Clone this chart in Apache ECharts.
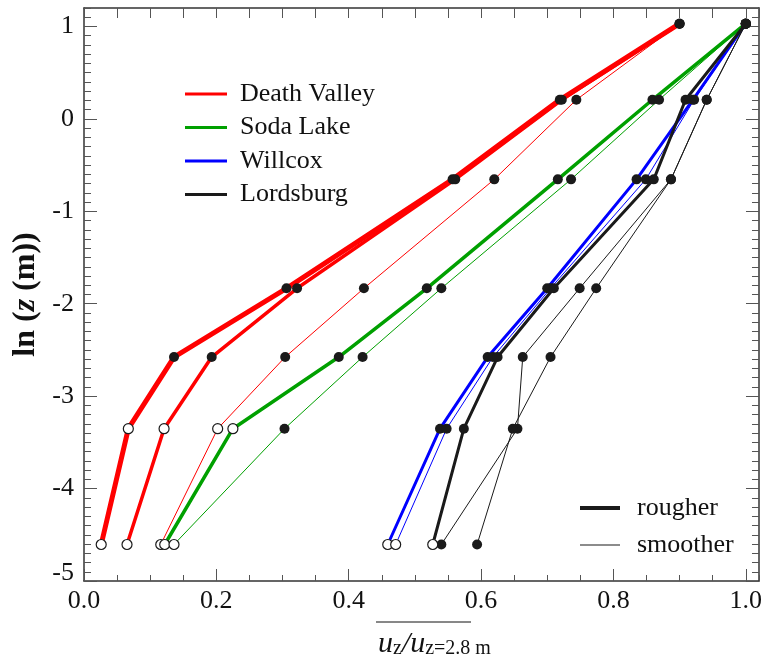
<!DOCTYPE html>
<html lang="en">
<head>
<meta charset="UTF-8">
<title>Wind profiles</title>
<script src="https://cdn.jsdelivr.net/npm/echarts@6/dist/echarts.min.js"></script>
<style>
  html, body { margin: 0; padding: 0; background: #fff; }
  #chart { width: 765px; height: 658px; }
</style>
</head>
<body>
<div id="chart"></div>
<script>
// ln(z) of the measurement heights (z in m)
var lnZ = [1.03, 0.207, -0.654, -1.833, -2.577, -3.352, -4.605];

// u_z / u_(z=2.8 m) at each height, one array per profile
var dvRough   = [0.900, 0.719, 0.557, 0.306, 0.136, 0.067, 0.026];
var dvMid     = [0.900, 0.722, 0.561, 0.322, 0.193, 0.121, 0.065];
var dvSmooth  = [0.900, 0.744, 0.620, 0.423, 0.304, 0.202, 0.116];
var slRough   = [1.000, 0.859, 0.716, 0.518, 0.385, 0.225, 0.122];
var slSmooth  = [1.000, 0.869, 0.736, 0.540, 0.421, 0.303, 0.136];
var wcRough   = [1.000, 0.920, 0.835, 0.700, 0.610, 0.538, 0.459];
var wcSmooth  = [1.000, 0.922, 0.849, 0.705, 0.618, 0.548, 0.471];
var lbRough   = [1.000, 0.909, 0.861, 0.710, 0.625, 0.574, 0.527];
var lbSmooth1 = [1.000, 0.941, 0.887, 0.749, 0.663, 0.655, 0.540];
var lbSmooth2 = [1.000, 0.941, 0.887, 0.774, 0.705, 0.648, 0.594];

// index from which a profile's points are open circles (7 = none)
var dvOpenFrom = 5, slRoughOpenFrom = 5, slSmoothOpenFrom = 6;
var wcOpenFrom = 6, lbRoughOpenFrom = 6, lbSmoothOpenFrom = 7;

var siteNames = ['Death Valley', 'Soda Lake', 'Willcox', 'Lordsburg'];
var roughNames = ['rougher', 'smoother'];

var RED = '#ff0000', GREEN = '#00a000', BLUE = '#0000ff', BLACK = '#1a1a1a';
var FONT = "'Liberation Serif', 'Times New Roman', serif";

var profiles = [
  { x: dvRough,   color: RED,   width: 5,   open: dvOpenFrom },
  { x: dvMid,     color: RED,   width: 3.5, open: dvOpenFrom },
  { x: dvSmooth,  color: RED,   width: 1,   open: dvOpenFrom },
  { x: slRough,   color: GREEN, width: 3.5, open: slRoughOpenFrom },
  { x: slSmooth,  color: GREEN, width: 1,   open: slSmoothOpenFrom },
  { x: wcRough,   color: BLUE,  width: 3,   open: wcOpenFrom },
  { x: wcSmooth,  color: BLUE,  width: 1,   open: wcOpenFrom },
  { x: lbRough,   color: BLACK, width: 3,   open: lbRoughOpenFrom },
  { x: lbSmooth1, color: BLACK, width: 1,   open: lbSmoothOpenFrom },
  { x: lbSmooth2, color: BLACK, width: 1,   open: lbSmoothOpenFrom }
];

var series = [];
var filledPts = [];
var openPts = [];

profiles.forEach(function (p, k) {
  var pts = [];
  for (var i = 0; i < lnZ.length; i++) {
    pts.push([p.x[i], lnZ[i]]);
    if (i >= p.open) openPts.push([p.x[i], lnZ[i]]);
    else filledPts.push([p.x[i], lnZ[i]]);
  }
  series.push({
    name: 'profile' + k,
    type: 'line',
    data: pts,
    symbol: 'none',
    lineStyle: { color: p.color, width: p.width },
    z: 2,
    animation: false
  });
});

series.push({
  type: 'scatter', data: filledPts, symbolSize: 10,
  itemStyle: { color: BLACK, opacity: 1 }, z: 5, animation: false
});
series.push({
  type: 'scatter', data: openPts, symbolSize: 10,
  itemStyle: { color: '#fff', borderColor: BLACK, borderWidth: 1.2, opacity: 1 }, z: 5, animation: false
});

// empty series, only for the legends
var siteColors = [RED, GREEN, BLUE, BLACK];
siteNames.forEach(function (n, i) {
  series.push({ name: n, type: 'line', data: [], color: siteColors[i] });
});
roughNames.forEach(function (n) {
  series.push({ name: n, type: 'line', data: [], color: BLACK });
});

var legendText = { fontFamily: FONT, fontSize: 26, lineHeight: 26, color: '#111', padding: [0, 0, 0, 8] };

function numAxis(extra) {
  var base = {
    type: 'value',
    axisLine: { show: false, onZero: false },
    axisTick: { inside: true, lineStyle: { color: '#555', width: 1 } },
    axisLabel: { show: false },
    splitLine: { show: false }
  };
  for (var k in extra) base[k] = extra[k];
  return base;
}

var frameLine = { show: true, onZero: false, lineStyle: { color: '#333', width: 1.5 } };

var option = {
  backgroundColor: '#fff',
  animation: false,
  grid: { left: 84, right: 2, top: 8, bottom: 77 },
  legend: [
    {
      data: siteNames, orient: 'vertical', left: 180, top: 76,
      itemWidth: 42, itemHeight: 3, itemGap: 7.5, icon: 'rect',
      selectedMode: false, textStyle: legendText
    },
    {
      data: ['rougher'], left: 575, top: 490, itemWidth: 40, itemHeight: 4,
      icon: 'rect', selectedMode: false, textStyle: { fontFamily: FONT, fontSize: 26, lineHeight: 26, color: '#111', padding: [0, 0, 0, 12] }
    },
    {
      data: ['smoother'], left: 575, top: 527, itemWidth: 40, itemHeight: 1.2,
      icon: 'rect', selectedMode: false, textStyle: { fontFamily: FONT, fontSize: 26, lineHeight: 26, color: '#111', padding: [0, 0, 0, 12] }
    }
  ],
  xAxis: [
    numAxis({
      position: 'bottom', min: 0, max: 1.02, interval: 0.2,
      axisLine: frameLine,
      axisTick: { inside: true, length: 12, lineStyle: { color: '#555' } },
      axisLabel: {
        show: true, showMaxLabel: false, margin: 7,
        fontFamily: FONT, fontSize: 26, color: '#111',
        formatter: function (v) { return v.toFixed(1); }
      }
    }),
    numAxis({ position: 'bottom', min: 0, max: 1.02, interval: 0.05,
      axisTick: { inside: true, length: 6, lineStyle: { color: '#555' } } }),
    numAxis({ position: 'top', min: 0, max: 1.02, interval: 0.05,
      axisLine: frameLine,
      axisTick: { inside: true, length: 10, lineStyle: { color: '#555' } } })
  ],
  yAxis: [
    numAxis({
      position: 'left', min: -5, max: 1.2, interval: 1,
      axisLine: frameLine,
      axisTick: { inside: true, length: 13, lineStyle: { color: '#555' } },
      axisLabel: {
        show: true, showMaxLabel: false, margin: 10,
        fontFamily: FONT, fontSize: 26, color: '#111',
        formatter: function (v) { return v === -5 ? '{low|-5}' : String(v); },
        rich: { low: { fontFamily: FONT, fontSize: 26, color: '#111', padding: [0, 0, 16, 0] } }
      },
      name: '{n|ln (}{i|z}{n| (m))}',
      nameLocation: 'middle', nameGap: 38, nameRotate: 90,
      nameTextStyle: {
        rich: {
          n: { fontFamily: FONT, fontSize: 32, fontWeight: 'bold', color: '#111' },
          i: { fontFamily: FONT, fontSize: 32, fontWeight: 'bold', fontStyle: 'italic', color: '#111' }
        }
      }
    }),
    numAxis({ position: 'left', min: -5, max: 1.2, interval: 0.1,
      axisTick: { inside: true, length: 7, lineStyle: { color: '#555' } } }),
    numAxis({ position: 'right', min: -5, max: 1.2, interval: 1,
      axisLine: frameLine,
      axisTick: { inside: true, length: 13, lineStyle: { color: '#555' } } }),
    numAxis({ position: 'right', min: -5, max: 1.2, interval: 0.1,
      axisTick: { inside: true, length: 7, lineStyle: { color: '#555' } } })
  ],
  graphic: [
    { type: 'line', shape: { x1: 376, y1: 622, x2: 471, y2: 622 }, style: { stroke: '#111', lineWidth: 1 } },
    {
      type: 'text', left: 378, top: 623,
      style: {
        text: '{u|u}{s|z}{u|/u}{s|z=2.8 m}',
        rich: {
          u: { fontFamily: FONT, fontSize: 30, fontStyle: 'italic', lineHeight: 30, verticalAlign: 'top', fill: '#111' },
          s: { fontFamily: FONT, fontSize: 20, lineHeight: 20, padding: [16, 0, 0, 0], verticalAlign: 'bottom', fill: '#111' }
        }
      }
    }
  ],
  series: series
};

var chart = echarts.init(document.getElementById('chart'));
chart.setOption(option);
</script>
</body>
</html>
